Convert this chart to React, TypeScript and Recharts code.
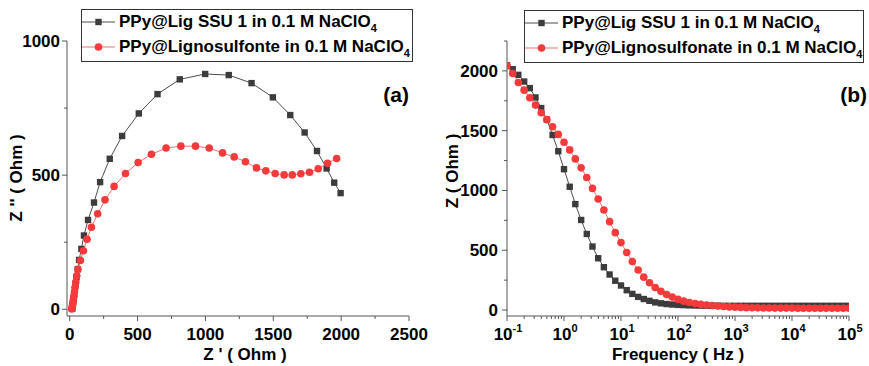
import React from 'react';
import { ScatterChart, Scatter, XAxis, YAxis, Legend, Label } from 'recharts';

const FONT = '"Liberation Sans", Arial, sans-serif';
const AXIS = '#555555';
const BLACK_MARK = '#3c3c3c';
const BLACK_LINE = '#4d4d4d';
const RED_MARK = '#f43a3a';
const RED_LINE = '#f07070';

// ---------- Panel (a): Nyquist ----------
const nyqSsuRe = [18, 19, 21, 23, 26, 29, 33, 38, 43, 50, 59, 69, 86, 105, 135, 179, 224, 295, 386, 509, 647, 811, 998, 1172, 1340, 1497, 1625, 1731, 1822, 1893, 1949, 1996];
const nyqSsuIm = [2, 6, 12, 20, 30, 42, 57, 75, 95, 120, 149, 184, 225, 275, 333, 398, 474, 561, 646, 730, 802, 857, 877, 873, 843, 790, 724, 659, 590, 525, 472, 433];
const nyqLsRe = [15, 17, 19, 21, 24, 27, 31, 35, 40, 45, 52, 61, 79, 101, 128, 160, 206, 260, 327, 411, 504, 602, 710, 819, 927, 1028, 1126, 1212, 1295, 1376, 1445, 1514, 1580, 1640, 1703, 1767, 1831, 1900, 1967];
const nyqLsIm = [1, 4, 9, 16, 25, 36, 49, 64, 82, 102, 125, 149, 182, 218, 261, 306, 356, 408, 458, 506, 547, 578, 601, 608, 608, 601, 583, 568, 550, 527, 516, 506, 501, 501, 505, 511, 524, 544, 562];

const aXMajor = [0, 500, 1000, 1500, 2000, 2500];
const aXMinor = [250, 750, 1250, 1750, 2250];
const aYMajor = [0, 500, 1000];
const aYMinor = [250, 750];

// ---------- Panel (b): Bode |Z| ----------
const freq = [
  0.1, 0.126, 0.158, 0.2, 0.251, 0.316, 0.398, 0.501, 0.631, 0.794,
  1, 1.26, 1.58, 2, 2.51, 3.16, 3.98, 5.01, 6.31, 7.94,
  10, 12.6, 15.8, 20, 25.1, 31.6, 39.8, 50.1, 63.1, 79.4,
  100, 126, 158, 200, 251, 316, 398, 501, 631, 794,
  1000, 1260, 1580, 2000, 2510, 3160, 3980, 5010, 6310, 7940,
  10000, 12600, 15800, 20000, 25100, 31600, 39800, 50100, 63100, 79400,
  100000,
];
const zSsu = [
  2047, 2014, 1967, 1911, 1856, 1778, 1689, 1592, 1464, 1328,
  1178, 1031, 886, 753, 636, 531, 433, 358, 297, 245,
  205, 166, 135, 110, 92, 77, 64, 56, 50, 46,
  43, 41, 39, 38, 37, 36, 36, 36, 35, 35,
  35, 35, 35, 35, 35, 35, 35, 35, 35, 35,
  35, 35, 35, 35, 35, 35, 35, 35, 35, 35,
  35,
];
const zLs = [
  2042, 1978, 1903, 1839, 1775, 1714, 1650, 1592, 1533, 1469,
  1403, 1339, 1264, 1189, 1108, 1017, 928, 836, 739, 647,
  564, 481, 406, 335, 275, 228, 188, 156, 130, 108,
  89, 74, 63, 54, 47, 42, 37, 33, 29, 26,
  24, 22, 20, 19, 18, 17, 17, 16, 16, 16,
  16, 15, 15, 15, 15, 15, 15, 15, 15, 15,
  15,
];

const bXMajor = [0.1, 1, 10, 100, 1000, 10000, 100000];
const bXMinorMult = [2, 3, 4, 5, 6, 7, 8, 9];
const bYMajor = [0, 500, 1000, 1500, 2000];
const bYMinor = [250, 750, 1250, 1750, 2250];

const legendSsu = 'PPy@Lig SSU 1 in 0.1 M NaClO';
const legendLsA = 'PPy@Lignosulfonte in 0.1 M NaClO';
const legendLsB = 'PPy@Lignosulfonate in 0.1 M NaClO';

// ---------- built data ----------
const nyqSsu = nyqSsuRe.map((x, i) => ({ x, y: nyqSsuIm[i] }));
const nyqLs = nyqLsRe.map((x, i) => ({ x, y: nyqLsIm[i] }));
const bodeSsu = freq.map((f, i) => ({ x: f, y: zSsu[i] }));
const bodeLs = freq.map((f, i) => ({ x: f, y: zLs[i] }));

const bXMinor: number[] = [];
bXMajor.slice(0, -1).forEach((d) => bXMinorMult.forEach((m) => bXMinor.push(+(d * m).toPrecision(3))));

const sortNum = (a: number[]) => [...a].sort((p, q) => p - q);

const txt = { fontFamily: FONT, fontWeight: 700, fill: '#000' } as const;

const Square = (p: any) => (
  <rect x={p.cx - 3.2} y={p.cy - 3.2} width={6.4} height={6.4} fill={BLACK_MARK} />
);
const Dot = (p: any) => <circle cx={p.cx} cy={p.cy} r={3.8} fill={RED_MARK} />;

const makeXTick = (majors: number[], log: boolean) => (props: any) => {
  const { x, y, payload } = props;
  const v = payload.value;
  const major = majors.some((m) => Math.abs(m - v) < 1e-9 * Math.max(1, Math.abs(m)));
  let label: React.ReactNode = null;
  if (major) {
    if (log) {
      const e = Math.round(Math.log10(v));
      label = (
        <text x={x + 1} y={y + 24} textAnchor="middle" fontSize={17} {...txt}>
          <tspan>10</tspan>
          <tspan dy={-8} fontSize={11}>{String(e)}</tspan>
        </text>
      );
    } else {
      label = (
        <text x={x} y={y + 24} textAnchor="middle" fontSize={17} {...txt}>
          {String(v)}
        </text>
      );
    }
  }
  return (
    <g>
      <line x1={x} y1={y} x2={x} y2={y + (major ? 5 : 3)} stroke={AXIS} strokeWidth={1} />
      {label}
    </g>
  );
};

const makeYTick = (majors: number[], gap: number) => (props: any) => {
  const { x, y, payload } = props;
  const v = payload.value;
  const major = majors.includes(v);
  return (
    <g>
      <line x1={x} y1={y} x2={x - (major ? 5 : 3)} y2={y} stroke={AXIS} strokeWidth={1} />
      {major && (
        <text x={x - gap} y={y + 6} textAnchor="end" fontSize={17} {...txt}>
          {String(v)}
        </text>
      )}
    </g>
  );
};

const LegendRow = ({ x0, y, kind, text }: { x0: number; y: number; kind: 'sq' | 'dot'; text: string }) => (
  <g>
    <line x1={x0} y1={y} x2={x0 + 33} y2={y} stroke={kind === 'sq' ? BLACK_LINE : RED_LINE} strokeWidth={1} />
    {kind === 'sq' ? (
      <rect x={x0 + 16.5 - 3.2} y={y - 3.2} width={6.4} height={6.4} fill={BLACK_MARK} />
    ) : (
      <circle cx={x0 + 16.5} cy={y} r={3.8} fill={RED_MARK} />
    )}
    <text x={x0 + 37} y={y + 5} fontSize={17} {...txt}>
      {text}
      <tspan dy={5} fontSize={11}>4</tspan>
    </text>
  </g>
);

const makeOverlay = (box: { x: number; y: number; w: number; h: number }, rowY: [number, number], second: string, tag: string, tagX: number) => () => (
  <svg width={440} height={366} style={{ position: 'absolute', left: 0, top: 0, overflow: 'visible' }}>
    <rect x={box.x + 0.5} y={box.y + 0.5} width={box.w} height={box.h} fill="#fff" stroke="#333" strokeWidth={1} />
    <LegendRow x0={box.x + 1} y={rowY[0]} kind="sq" text={legendSsu} />
    <LegendRow x0={box.x + 1} y={rowY[1]} kind="dot" text={second} />
    <text x={tagX} y={102} textAnchor="end" fontSize={21} {...txt}>
      {tag}
    </text>
  </svg>
);

const OverlayA = makeOverlay({ x: 81, y: 9, w: 331, h: 52 }, [22, 47], legendLsA, '(a)', 409);
const OverlayB = makeOverlay({ x: 94, y: 10, w: 339, h: 52 }, [23, 48], legendLsB, '(b)', 437);

const legendWrap = { position: 'absolute', left: 0, top: 0, width: 440, height: 366, pointerEvents: 'none' } as any;

export default function App() {
  return (
    <div style={{ position: 'absolute', left: 0, top: 0, width: 869, height: 366, background: '#fff', fontFamily: FONT }}>
      <div style={{ position: 'absolute', left: 0, top: 0 }}>
        <ScatterChart width={430} height={366} margin={{ top: 41, right: 21, bottom: 0, left: 0 }}>
          <XAxis
            type="number"
            dataKey="x"
            domain={[-20, 2500]}
            ticks={sortNum([...aXMajor, ...aXMinor])}
            interval={0}
            tickSize={0}
            tickMargin={0}
            tickLine={false}
            axisLine={{ stroke: AXIS }}
            height={50}
            tick={makeXTick(aXMajor, false)}
            allowDataOverflow
          >
            <Label
              content={() => (
                <text x={245} y={360} textAnchor="middle" fontSize={17} {...txt}>
                  Z ' ( Ohm )
                </text>
              )}
            />
          </XAxis>
          <YAxis
            type="number"
            dataKey="y"
            domain={[-25, 1000]}
            ticks={sortNum([...aYMajor, ...aYMinor])}
            interval={0}
            tickSize={0}
            tickMargin={0}
            tickLine={false}
            axisLine={{ stroke: AXIS }}
            width={67}
            tick={makeYTick(aYMajor, 7)}
            allowDataOverflow
          >
            <Label
              content={() => (
                <text x={22} y={178} transform="rotate(-90 22 178)" textAnchor="middle" fontSize={17} {...txt}>
                  Z '' ( Ohm )
                </text>
              )}
            />
          </YAxis>
          <Scatter data={nyqSsu} line={{ stroke: BLACK_LINE, strokeWidth: 1 }} shape={Square} isAnimationActive={false} />
          <Scatter data={nyqLs} line={{ stroke: RED_LINE, strokeWidth: 1 }} shape={Dot} isAnimationActive={false} />
          <Legend layout="horizontal" verticalAlign="middle" align="center" wrapperStyle={legendWrap} content={OverlayA} />
        </ScatterChart>
      </div>
      <div style={{ position: 'absolute', left: 430, top: 0 }}>
        <ScatterChart width={439} height={366} margin={{ top: 41, right: 20, bottom: 0, left: 0 }}>
          <XAxis
            type="number"
            dataKey="x"
            scale="log"
            domain={[0.1, 100000]}
            ticks={sortNum([...bXMajor, ...bXMinor])}
            interval={0}
            tickSize={0}
            tickMargin={0}
            tickLine={false}
            axisLine={{ stroke: AXIS }}
            height={50}
            tick={makeXTick(bXMajor, true)}
            allowDataOverflow
          >
            <Label
              content={() => (
                <text x={248} y={360} textAnchor="middle" fontSize={17} {...txt}>
                  Frequency ( Hz )
                </text>
              )}
            />
          </XAxis>
          <YAxis
            type="number"
            dataKey="y"
            domain={[-50, 2250]}
            ticks={sortNum([...bYMajor, ...bYMinor])}
            interval={0}
            tickSize={0}
            tickMargin={0}
            tickLine={false}
            axisLine={{ stroke: AXIS }}
            width={77}
            tick={makeYTick(bYMajor, 9)}
            allowDataOverflow
          >
            <Label
              content={() => (
                <text x={28} y={171} transform="rotate(-90 28 171)" textAnchor="middle" fontSize={17} {...txt}>
                  Z ( Ohm )
                </text>
              )}
            />
          </YAxis>
          <Scatter data={bodeSsu} line={{ stroke: BLACK_LINE, strokeWidth: 1 }} shape={Square} isAnimationActive={false} />
          <Scatter data={bodeLs} line={{ stroke: RED_LINE, strokeWidth: 1 }} shape={Dot} isAnimationActive={false} />
          <Legend layout="horizontal" verticalAlign="middle" align="center" wrapperStyle={legendWrap} content={OverlayB} />
        </ScatterChart>
      </div>
    </div>
  );
}
